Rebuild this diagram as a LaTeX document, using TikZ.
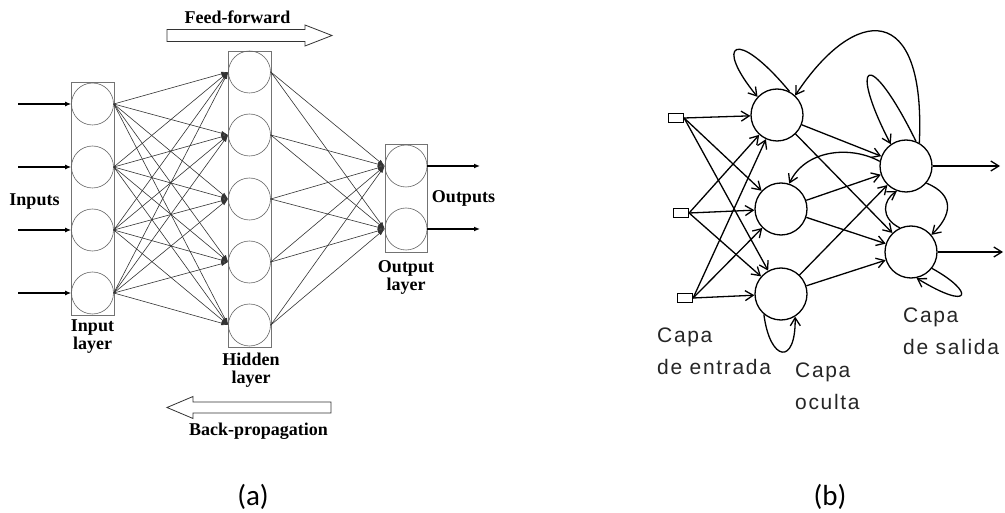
\documentclass[tikz,border=0pt]{standalone}
\usepackage{fontspec}
\setmainfont{Liberation Serif}
\newfontfamily\labfont{Liberation Sans}[LetterSpace=8]
\newfontfamily\capfont{Carlito}
\usetikzlibrary{arrows.meta}

\begin{document}
\begin{tikzpicture}[x=1pt,y=-1pt,
  aneuron/.style={circle,draw=black!60,line width=0.6pt,minimum size=42pt,inner sep=0pt},
  layerbox/.style={draw=black!55,line width=0.6pt},
  alink/.style={draw=black!80,line width=0.6pt,-{Latex[length=7pt,width=4.5pt]}},
  iolink/.style={line width=1.3pt,-{Latex[length=6pt,width=5pt]}},
  atext/.style={font=\fontsize{18}{18}\selectfont\bfseries,inner sep=0pt,align=center},
  blockarrow/.style={draw=black!80,line width=0.8pt,fill=white},
  bneuron/.style={circle,draw,line width=1.3pt,minimum size=52pt,inner sep=0pt},
  binput/.style={rectangle,draw,line width=1.2pt,minimum width=15pt,minimum height=9pt,inner sep=0pt},
  blink/.style={line width=1.3pt,-{Straight Barb[length=8pt,width=10pt]}},
  btext/.style={font=\labfont\fontsize{21}{32}\selectfont,text=black!85,inner sep=0pt,anchor=north west,align=left},
  captext/.style={font=\capfont\fontsize{29}{29}\selectfont,inner sep=0pt,anchor=base}
]
\useasboundingbox[fill=white] (0,0) rectangle (1005,513);

% ---------------- (a) feed-forward network ----------------
% layer frames
\draw[layerbox] (71,82) rectangle (114,315);
\draw[layerbox] (228,51) rectangle (271,347);
\draw[layerbox] (385,144) rectangle (427,252);

% neurons
\foreach \k/\y in {1/104,2/167,3/230,4/293}
  \node[aneuron] (i\k) at (92.5,\y) {};
\foreach \k/\y in {1/72,2/135,3/199,4/262,5/325}
  \node[aneuron] (h\k) at (249.5,\y) {};
\foreach \k/\y in {1/166,2/229}
  \node[aneuron] (o\k) at (406,\y) {};

% weights
\foreach \a in {1,...,4}
  \foreach \b in {1,...,5}
    \draw[alink] (i\a.east) -- (h\b.west);
\foreach \a in {1,...,5}
  \foreach \b in {1,2}
    \draw[alink] (h\a.east) -- (o\b.west);

% external inputs and outputs
\foreach \k/\y in {1/104,2/167,3/230,4/293} {
  \coordinate (src\k) at (18,\y);
  \draw[iolink] (src\k) -- (i\k.west);
}
\foreach \k/\y in {1/166,2/229} {
  \coordinate (dst\k) at (480,\y);
  \draw[iolink] (o\k.east) -- (dst\k);
}

% hollow direction arrows
\draw[blockarrow] (167,29.5) -- (305,29.5) -- (305,25) -- (332,35.5) -- (305,46)
  -- (305,41.5) -- (167,41.5) -- cycle;
\draw[blockarrow] (167,407.5) -- (193,396.5) -- (193,402) -- (331,402) -- (331,413)
  -- (193,413) -- (193,418.5) -- cycle;

% labels
\node[atext,anchor=base] (tff) at (237.5,24) {Feed-forward};
\node[atext,anchor=base] (tbp) at (258.5,435) {Back-propagation};
\node[atext,anchor=base] (tin) at (34.5,206) {Inputs};
\node[atext,anchor=base] (tout) at (463.5,203) {Outputs};
\node[atext,anchor=north] (til) at (92.5,320) {Input\\layer};
\node[atext,anchor=north] (thl) at (251,353) {Hidden\\layer};
\node[atext,anchor=north] (tol) at (406,260) {Output\\layer};

% ---------------- (b) recurrent network ----------------
\foreach \k/\x/\y in {1/676/118,2/681/213,3/685/298}
  \node[binput] (I\k) at (\x,\y) {};
\node[bneuron] (H1) at (777,115) {};
\node[bneuron] (H2) at (781,209) {};
\node[bneuron] (H3) at (781,294) {};
\node[bneuron] (O1) at (906,166) {};
\node[bneuron] (O2) at (911,252) {};

% forward connections
\foreach \a in {1,2,3}
  \foreach \b in {1,2,3}
    \draw[blink] (I\a.east) -- (H\b);
\foreach \a in {1,2,3}
  \foreach \b in {1,2}
    \draw[blink] (H\a) -- (O\b);
\coordinate (Y1) at (1000,166);
\coordinate (Y2) at (1003,252);
\draw[blink] (O1) -- (Y1);
\draw[blink] (O2) -- (Y2);

% feedback and self loops
\draw[blink] (H1.62) .. controls (735,26) and (714,44) .. (H1.137);
\draw[blink] (O1.60) .. controls (926,0) and (855,5) .. (H1.47);
\draw[blink] (O1.68) .. controls (868,44) and (848,62) .. (O1.125);
\draw[blink] (O1.170) .. controls (850,145) and (805,150) .. (H2.72);
\draw[blink] (O1.-40) .. controls (955,195) and (952,215) .. (O2.40);
\draw[blink] (O2.115) .. controls (880,218) and (883,200) .. (O1.-110);
\draw[blink] (O2.-38) .. controls (975,292) and (972,312) .. (O2.-78);
\draw[blink] (H3.-130) .. controls (770,362) and (796,366) .. (H3.-58);

% layer names
\node[btext] (lin) at (657,328) {Capa\\de entrada};
\node[btext] (lhid) at (795,363) {Capa\\oculta};
\node[btext] (lout) at (903,308) {Capa\\de salida};

% captions
\node[captext] (capa) at (253,505) {(a)};
\node[captext] (capb) at (830,505) {(b)};
\end{tikzpicture}
\end{document}
